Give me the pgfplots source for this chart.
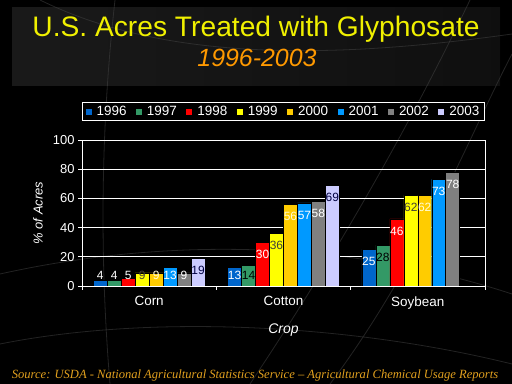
\documentclass[border=0pt]{standalone}
\usepackage{pgfplots}
\pgfplotsset{compat=1.18}
\usepackage{fontspec}
\setmainfont{Liberation Sans}
\newfontfamily\srcfont{Liberation Serif}
\definecolor{c96}{RGB}{0,102,204}
\definecolor{c97}{RGB}{51,153,102}
\definecolor{c98}{RGB}{255,0,0}
\definecolor{c99}{RGB}{255,255,0}
\definecolor{c00}{RGB}{255,204,0}
\definecolor{c01}{RGB}{0,153,255}
\definecolor{c02}{RGB}{128,128,128}
\definecolor{c03}{RGB}{204,204,255}
\definecolor{ttl}{RGB}{240,240,0}
\definecolor{sub}{RGB}{255,153,0}
\definecolor{src}{RGB}{225,160,30}
\definecolor{globe}{RGB}{70,70,70}
\begin{document}
\begin{tikzpicture}
\useasboundingbox (0,0) rectangle (512bp,384bp);
\fill[black] (0,0) rectangle (512bp,384bp);
% faint title band and globe lines (decoration)
\shade[left color=black!90!white, right color=black!94!white] (12bp,298bp) rectangle (500bp,376bp);
\begin{scope}[draw=globe, line width=0.8bp, opacity=0.5]
\draw (330bp,0bp) .. controls (420bp,120bp) and (470bp,250bp) .. (512bp,330bp);
\draw (250bp,0bp) .. controls (350bp,150bp) and (420bp,280bp) .. (470bp,384bp);
\draw (0bp,40bp) .. controls (150bp,70bp) and (350bp,60bp) .. (512bp,20bp);
\draw (0bp,110bp) .. controls (180bp,150bp) and (360bp,140bp) .. (512bp,90bp);
\draw (110bp,0bp) .. controls (100bp,120bp) and (100bp,250bp) .. (115bp,384bp);
\draw (40bp,384bp) .. controls (150bp,330bp) and (300bp,320bp) .. (512bp,350bp);
\end{scope}
\node[anchor=base, text=ttl, font=\fontsize{28.3}{30}\selectfont] at (256bp,347bp) {U.S. Acres Treated with Glyphosate};
\node[anchor=base, text=sub, font=\fontsize{25}{27}\selectfont\itshape] at (257bp,317bp) {1996-2003};
\node[anchor=base, text=src, font=\fontsize{12.6}{15}\srcfont\itshape] at (255bp,6bp) {Source: USDA - National Agricultural Statistics Service \textendash\ Agricultural Chemical Usage Reports};
\begin{axis}[
  at={(82bp,98bp)}, anchor=south west,
  x=134.3bp, y=1.46bp,
  xmin=-0.5, xmax=2.5, ymin=0, ymax=100,
  ybar, bar width=0.104,
  axis line style={white, line width=0.8bp},
  ymajorgrids, grid style={white, line width=0.8bp},
  ytick={0,20,40,60,80,100},
  xtick={-0.5,0.5,1.5,2.5},
  x tick label as interval,
  xticklabels={Corn,Cotton,Soybean},
  tick align=outside, major tick length=4bp,
  tick style={white, line width=0.8bp},
  ytick pos=left, xtick pos=bottom,
  /pgf/number format/assume math mode=true,
  ticklabel style={text=white},
  yticklabel style={font=\fontsize{13}{15}\selectfont},
  xticklabel style={font=\fontsize{13.5}{15}\selectfont, yshift=-3bp},
  ylabel={\% of Acres},
  ylabel style={at={(axis description cs:-0.109,0.5)}, anchor=center, text=white, font=\fontsize{13}{15}\selectfont\itshape},
  xlabel={Crop},
  xlabel style={at={(axis description cs:0.5,-0.305)}, anchor=center, text=white, font=\fontsize{14}{16}\selectfont\itshape},
  visualization depends on=rawy \as \rawy,
  nodes near coords,
  every node near coord/.append style={anchor=center, font=\fontsize{12}{14}\selectfont, inner sep=0pt,
     yshift={1.46*(max(\rawy-8.5,7.5)-\rawy)}},
  legend columns=8,
  legend style={at={(0.5,1)}, anchor=south, yshift=19bp, draw=white, line width=0.8bp, fill=black, text=white,
     font=\fontsize{13.5}{15}\selectfont, inner xsep=3bp, inner ysep=1.5bp,
     /tikz/every odd column/.append style={column sep=3bp},
     /tikz/every even column/.append style={column sep=7.5bp}},
  legend image code/.code={\fill[#1, draw=none] (0bp,-3bp) rectangle (6bp,3bp);},
]
\addplot[fill=c96, draw=black, bar shift=-0.364, every node near coord/.append style={text=white}]
  coordinates {(0,4) (1,13) (2,25)};
\addplot[fill=c97, draw=black, bar shift=-0.260, point meta=explicit symbolic, every node near coord/.append style={text=black}]
  coordinates {(0,4) [\textcolor{white}{4}] (1,14) [14] (2,28) [28]};
\addplot[fill=c98, draw=black, bar shift=-0.156, every node near coord/.append style={text=white}]
  coordinates {(0,5) (1,30) (2,46)};
\addplot[fill=c99, draw=black, bar shift=-0.052, every node near coord/.append style={text=black!85!yellow}]
  coordinates {(0,9) (1,36) (2,62)};
\addplot[fill=c00, draw=black, bar shift=0.052, every node near coord/.append style={text=yellow!15!white}]
  coordinates {(0,9) (1,56) (2,62)};
\addplot[fill=c01, draw=black, bar shift=0.156, every node near coord/.append style={text=white}]
  coordinates {(0,13) (1,57) (2,73)};
\addplot[fill=c02, draw=black, bar shift=0.260, every node near coord/.append style={text=white}]
  coordinates {(0,9) (1,58) (2,78)};
\addplot[fill=c03, draw=black, bar shift=0.364, every node near coord/.append style={text=blue!25!black}]
  coordinates {(0,19) (1,69)};
\legend{1996,1997,1998,1999,2000,2001,2002,2003}
\end{axis}
\end{tikzpicture}
\end{document}
